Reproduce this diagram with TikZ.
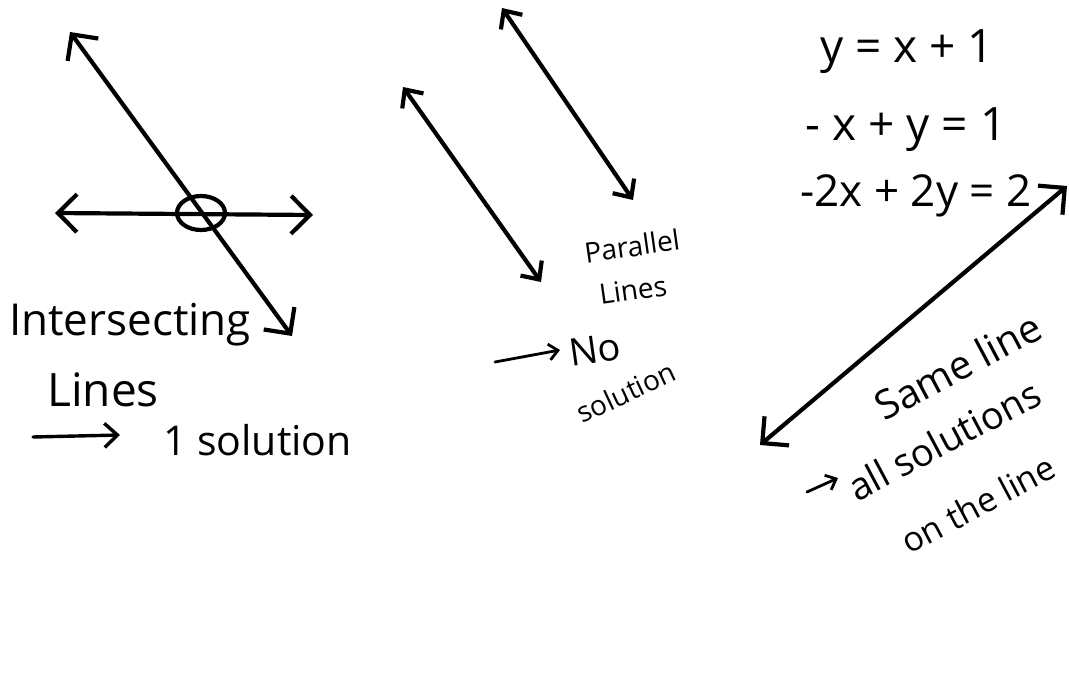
\documentclass[tikz,border=0pt]{standalone}
\usepackage{fontspec}
\setmainfont{Open Sans}
\usetikzlibrary{arrows.meta,shapes.geometric}
\tikzset{
  ink/.style={line width=4.2pt, line cap=round, line join=round, black},
  bigarr/.style={ink, {Straight Barb[length=19pt,width=38pt]}-{Straight Barb[length=19pt,width=38pt]}},
  smallarr/.style={ink, {Straight Barb[length=14pt,width=26pt]}-{Straight Barb[length=14pt,width=26pt]}},
  onearr/.style={ink, line width=3.4pt, -{Straight Barb[length=13pt,width=24pt]}},
  tinyarr/.style={ink, line width=2.8pt, -{Straight Barb[length=9pt,width=16pt]}},
  hand/.style={inner sep=0pt, text=black},
}
\newcommand{\fsz}[1]{\fontsize{#1}{#1}\selectfont}
\begin{document}
\begin{tikzpicture}[x=1pt,y=-1pt]
\useasboundingbox[fill=white] (0,0) rectangle (1069,696);
% ---- intersecting lines
\coordinate (d1) at (70,32);
\coordinate (d2) at (292,336);
\coordinate (h1) at (55,213);
\coordinate (h2) at (313,215);
\draw[bigarr] (d1) -- (d2);
\draw[bigarr] (h1) -- (h2);
\node[ink, draw, ellipse, minimum width=48pt, minimum height=34pt, inner sep=0pt] (pt) at (201,213) {};
\node[hand, font=\fsz{44}] (inter) at (130,325) {Intersecting};
\node[hand, font=\fsz{46}] (lines1) at (103,390) {Lines};
\coordinate (a1s) at (33,437);
\coordinate (a1e) at (120,435);
\draw[onearr] (a1s) -- (a1e);
\node[hand, font=\fsz{41}, anchor=west] (one) at (163,440) {1 solution};
% ---- parallel lines
\coordinate (p1) at (403,87);
\coordinate (p2) at (541,282);
\coordinate (q1) at (502,8);
\coordinate (q2) at (633,200);
\draw[smallarr] (p1) -- (p2);
\draw[smallarr] (q1) -- (q2);
\node[hand, font=\fsz{28}, rotate=8] (par) at (632,246) {Parallel};
\node[hand, font=\fsz{28}, rotate=8] (lines2) at (633,290) {Lines};
\coordinate (a2s) at (495,362);
\coordinate (a2e) at (560,350);
\draw[tinyarr] (a2s) -- (a2e);
\node[hand, font=\fsz{38}, rotate=8] (no) at (595,350) {No};
\node[hand, font=\fsz{28}, rotate=25] (sol2) at (626,392) {solution};
% ---- same line
\node[hand, font=\fsz{46}] (e1) at (907,52) {y = x + 1};
\node[hand, font=\fsz{46}] (e2) at (906,130) {- x + y = 1};
\node[hand, font=\fsz{44}] (e3) at (916,196) {-2x + 2y = 2};
\coordinate (s1) at (1067,186);
\coordinate (s2) at (760,445);
\draw[bigarr] (s1) -- (s2);
\node[hand, font=\fsz{40}, rotate=28] (same) at (958,366) {Same line};
\coordinate (a3s) at (807,492);
\coordinate (a3e) at (838,478);
\draw[tinyarr] (a3s) -- (a3e);
\node[hand, font=\fsz{38}, rotate=28] (all) at (944,440) {all solutions};
\node[hand, font=\fsz{34}, rotate=28] (onl) at (978,504) {on the line};
\end{tikzpicture}
\end{document}
